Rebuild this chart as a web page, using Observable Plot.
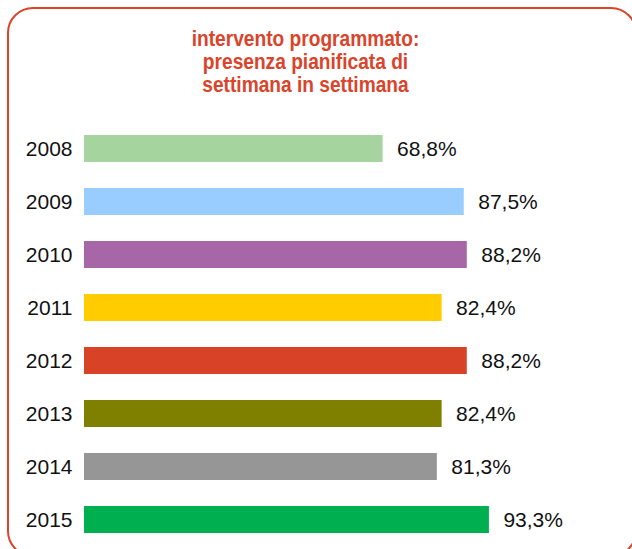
<!DOCTYPE html>
<html>
<head>
<meta charset="utf-8">
<script src="https://cdn.jsdelivr.net/npm/d3@7"></script>
<script src="https://cdn.jsdelivr.net/npm/@observablehq/plot@0.6"></script>
<style>
  html, body { margin: 0; padding: 0; background: #fff; overflow: hidden; }
  #wrap { position: relative; width: 632px; height: 549px; overflow: hidden; font-family: "Liberation Sans", Arial, sans-serif; }
  #frame { position: absolute; left: 7px; top: 7px; width: 630px; height: 550px; border: 2.6px solid #D9442B; border-radius: 26px; box-sizing: border-box; }
  #title { position: absolute; left: 0; width: 611px; top: 27px; text-align: center; color: #D9442B; font-family: "Liberation Sans", Arial, sans-serif; font-weight: bold; font-size: 22px; line-height: 23px; transform: scaleX(0.87); transform-origin: 305.5px 0; }
  #chart { position: absolute; left: 0; top: 0; }
</style>
</head>
<body>
<div id="wrap">
  <div id="frame"></div>
  <div id="title">intervento programmato:<br>presenza pianificata di<br>settimana in settimana</div>
  <div id="chart"></div>
</div>
<script>
const years = ["2008", "2009", "2010", "2011", "2012", "2013", "2014", "2015"];
const values = [68.8, 87.5, 88.2, 82.4, 88.2, 82.4, 81.3, 93.3];
const colors = ["#A6D49F", "#99CCFF", "#A666A8", "#FFCC00", "#D84327", "#808000", "#969696", "#00B050"];

const data = years.map((y, i) => ({year: y, value: values[i], color: colors[i]}));
const fmt = v => v.toFixed(1).replace(".", ",") + "%";

const plot = Plot.plot({
  width: 632,
  height: 549,
  marginLeft: 84,
  marginRight: 114,
  marginTop: 0,
  marginBottom: 0,
  style: {fontFamily: "'Liberation Sans', Arial, sans-serif", background: "transparent", overflow: "visible"},
  x: {domain: [0, 100], axis: null},
  y: {domain: years, range: [121, 546], padding: 0, label: null},
  marks: [
    Plot.barX(data, {x: "value", y: "year", fill: "color", insetTop: 13, insetBottom: 13}),
    Plot.text(data, {x: "value", y: "year", text: d => fmt(d.value), dx: 14, textAnchor: "start", fontSize: 21, fill: "#111"}),
    Plot.axisY({tickSize: 0, tickPadding: 12, fontSize: 21, label: null, color: "#111"})
  ]
});
document.getElementById("chart").appendChild(plot);
</script>
</body>
</html>
